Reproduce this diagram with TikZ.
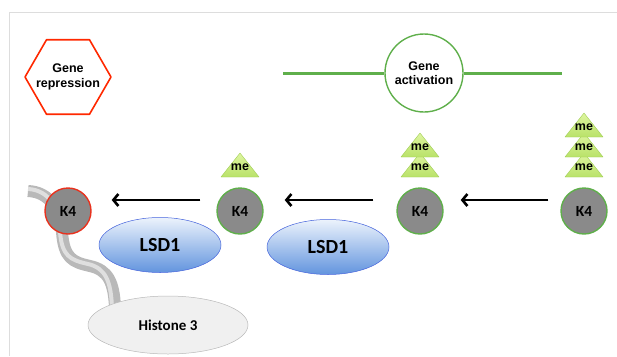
\documentclass[tikz,border=0pt]{standalone}
\usepackage{fontspec}
\setmainfont{Liberation Sans}
\newfontfamily\calibri{Carlito}
\usetikzlibrary{shapes.geometric,positioning,calc,arrows.meta}
\definecolor{reprRed}{RGB}{255,40,0}
\definecolor{actGreen}{RGB}{95,175,75}
\definecolor{kGray}{RGB}{138,138,138}
\definecolor{kRed}{RGB}{232,50,30}
\definecolor{meTop}{RGB}{222,245,160}
\definecolor{meBottom}{RGB}{185,226,105}
\definecolor{meEdge}{RGB}{160,205,85}
\definecolor{lsdTop}{RGB}{236,243,252}
\definecolor{lsdBottom}{RGB}{98,148,222}
\definecolor{lsdEdge}{RGB}{70,100,220}
\definecolor{frameGray}{RGB}{221,221,221}
\newcommand{\methyl}[3]{
	\draw[me_tri] ($(-19,0)+(#2,#3)$) -- ($(0,-24)+(#2,#3)$) -- ($(19,0)+(#2,#3)$) -- cycle;
	\node[me_text] (#1) at ($(0,-10)+(#2,#3)$) {me};
}
\begin{document}
\begin{tikzpicture}[x=1pt,y=-1pt,join=round]
		\tikzstyle{frame_line}=[draw=frameGray, line width=0.8pt];
		\tikzstyle{gene_text}=[align=center, font=\fontsize{12.5}{14.5}\selectfont\bfseries, inner sep=0pt];
		\tikzstyle{k_mark}=[circle, draw=actGreen, fill=kGray, line width=1.4pt, minimum size=46pt, inner sep=0pt, font=\calibri\fontsize{15.5}{17}\selectfont\bfseries];
		\tikzstyle{lsd}=[ellipse, draw=lsdEdge, line width=0.5pt, top color=lsdTop, bottom color=lsdBottom, minimum width=122pt, minimum height=55pt, inner sep=0pt, font=\calibri\fontsize{20}{22}\selectfont\bfseries];
		\tikzstyle{me_tri}=[draw=meEdge, line width=0.4pt, top color=meTop, bottom color=meBottom];
		\tikzstyle{me_text}=[inner sep=0pt, font=\fontsize{12.5}{14}\selectfont\bfseries];
		\tikzstyle{demeth}=[-{Straight Barb[length=5pt,width=12pt,line width=2.6pt]}, line width=2.8pt];
		\tikzstyle{ribbon}=[line width=12pt, draw=gray!55];
		
		\useasboundingbox (0,0) rectangle (617,356);
		\draw[frame_line] (9,356) -- (9,12) -- (617,12);
		
		\node[regular polygon, regular polygon sides=6, draw=reprRed, line width=1.6pt, minimum size=86pt, inner sep=0pt] (repr) at (68,77) {};
		\node[gene_text] at (repr) {Gene\\repression};
		
		\coordinate (actL) at (283,73);
		\coordinate (actR) at (562,73);
		\node[circle, draw=actGreen, fill=white, line width=1.4pt, minimum size=78pt, inner sep=0pt] (act) at (424,73) {};
		\draw[actGreen, line width=3pt] (actL) -- (act);
		\draw[actGreen, line width=3pt] (act) -- (actR);
		\node[gene_text] at (act) {Gene\\activation};
		
		\draw[ribbon] (28,191) .. controls (50,192) and (60,210) .. (62,232) .. controls (64,258) and (72,262) .. (90,266) .. controls (108,270) and (114,282) .. (115,308);
		\draw[line width=4pt, draw=gray!25] (28,189) .. controls (50,190) and (60,210) .. (60,232) .. controls (62,256) and (70,260) .. (88,264) .. controls (106,268) and (111,282) .. (112,308);
		\node[ellipse, draw=gray!55, fill=gray!12, line width=0.5pt, minimum width=160pt, minimum height=58pt, font=\calibri\fontsize{15}{17}\selectfont\bfseries] (histone) at (168,325) {Histone 3};
		
		\node[k_mark, draw=kRed] (k1) at (68,211) {K4};
		\node[k_mark] (k2) at (240,211) {K4};
		\node[k_mark] (k3) at (420,211) {K4};
		\node[k_mark] (k4) at (584,211) {K4};
		
		\node[lsd] (lsd1a) at (160,245) {LSD1};
		\node[lsd] (lsd1b) at (328,247) {LSD1};
		
		\methyl{me2a}{240}{177}
		\methyl{me3a}{420}{177}
		\methyl{me3b}{420}{157}
		\methyl{me4a}{584}{177}
		\methyl{me4b}{584}{157}
		\methyl{me4c}{584}{137}
		
		\draw[demeth, shorten <=16pt, shorten >=20pt] ([yshift=11pt]k2.west) -- ([yshift=11pt]k1.east);
		\draw[demeth, shorten <=23pt, shorten >=21pt] ([yshift=11pt]k3.west) -- ([yshift=11pt]k2.east);
		\draw[demeth, shorten <=12pt, shorten >=17pt] ([yshift=11pt]k4.west) -- ([yshift=11pt]k3.east);
	\end{tikzpicture}
\end{document}
